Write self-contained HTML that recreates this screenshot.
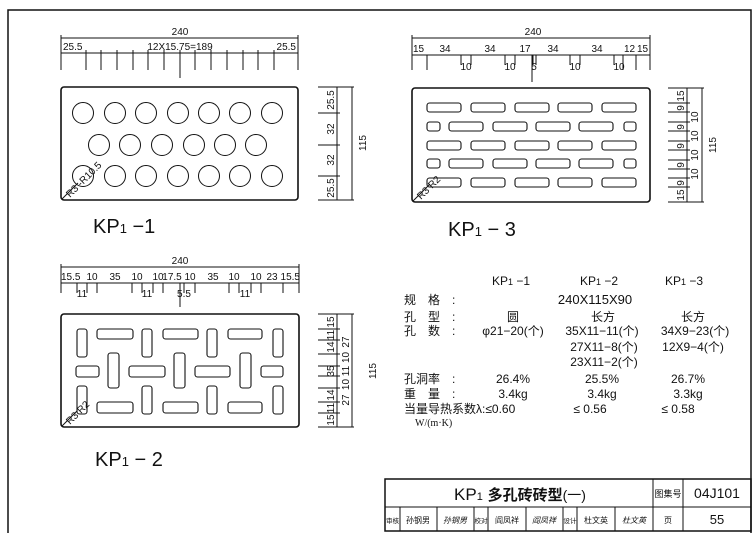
<!DOCTYPE html>
<html><head><meta charset="utf-8"><style>
html,body{margin:0;padding:0;background:#fff}
svg{display:block}
text{font-family:"Liberation Sans","Noto Sans CJK SC",sans-serif;fill:#111}
.s{font-size:10px}
.t{font-size:12px}
.b{font-size:20px}
</style></head><body>
<svg width="754" height="534" viewBox="0 0 754 534" xmlns="http://www.w3.org/2000/svg">
<g stroke="#111" fill="none" stroke-width="1">
<polyline points="8,533 8,10 751,10 751,533" stroke-width="1.5"/>

<rect x="61" y="87" width="237" height="113" rx="3" stroke-width="1.6"/>
<g>
<circle cx="83" cy="113" r="10.5"/><circle cx="115" cy="113" r="10.5"/><circle cx="146" cy="113" r="10.5"/><circle cx="178" cy="113" r="10.5"/><circle cx="209" cy="113" r="10.5"/><circle cx="240" cy="113" r="10.5"/><circle cx="272" cy="113" r="10.5"/>
<circle cx="99" cy="145" r="10.5"/><circle cx="130" cy="145" r="10.5"/><circle cx="162" cy="145" r="10.5"/><circle cx="194" cy="145" r="10.5"/><circle cx="225" cy="145" r="10.5"/><circle cx="256" cy="145" r="10.5"/>
<circle cx="83" cy="176" r="10.5"/><circle cx="115" cy="176" r="10.5"/><circle cx="146" cy="176" r="10.5"/><circle cx="178" cy="176" r="10.5"/><circle cx="209" cy="176" r="10.5"/><circle cx="240" cy="176" r="10.5"/><circle cx="272" cy="176" r="10.5"/>
</g>
<line x1="62" y1="199" x2="78" y2="183"/>
<line x1="61" y1="38" x2="298" y2="38"/>
<line x1="61" y1="53" x2="298" y2="53"/>
<path d="M61,35V70 M86,50V70 M101,50V70 M117,50V70 M133,50V70 M148,50V70 M164,50V70 M180,50V78 M195,50V70 M211,50V70 M227,50V70 M243,50V70 M258,50V70 M274,50V70 M298,35V70"/>
<line x1="337" y1="87" x2="337" y2="200"/>
<line x1="352" y1="87" x2="352" y2="200"/>
<path d="M318,87H354 M318,113H340 M318,145H340 M318,176H340 M318,200H354"/>

<rect x="412" y="88" width="238" height="114" rx="3" stroke-width="1.6"/>
<g stroke-width="1.1">
<rect x="427" y="103" width="34" height="9" rx="2.5"/><rect x="471" y="103" width="34" height="9" rx="2.5"/><rect x="515" y="103" width="34" height="9" rx="2.5"/><rect x="558" y="103" width="34" height="9" rx="2.5"/><rect x="602" y="103" width="34" height="9" rx="2.5"/>
<rect x="427" y="122" width="13" height="9" rx="2.5"/><rect x="449" y="122" width="34" height="9" rx="2.5"/><rect x="493" y="122" width="34" height="9" rx="2.5"/><rect x="536" y="122" width="34" height="9" rx="2.5"/><rect x="579" y="122" width="34" height="9" rx="2.5"/><rect x="624" y="122" width="12" height="9" rx="2.5"/>
<rect x="427" y="141" width="34" height="9" rx="2.5"/><rect x="471" y="141" width="34" height="9" rx="2.5"/><rect x="515" y="141" width="34" height="9" rx="2.5"/><rect x="558" y="141" width="34" height="9" rx="2.5"/><rect x="602" y="141" width="34" height="9" rx="2.5"/>
<rect x="427" y="159" width="13" height="9" rx="2.5"/><rect x="449" y="159" width="34" height="9" rx="2.5"/><rect x="493" y="159" width="34" height="9" rx="2.5"/><rect x="536" y="159" width="34" height="9" rx="2.5"/><rect x="579" y="159" width="34" height="9" rx="2.5"/><rect x="624" y="159" width="12" height="9" rx="2.5"/>
<rect x="427" y="178" width="34" height="9" rx="2.5"/><rect x="471" y="178" width="34" height="9" rx="2.5"/><rect x="515" y="178" width="34" height="9" rx="2.5"/><rect x="558" y="178" width="34" height="9" rx="2.5"/><rect x="602" y="178" width="34" height="9" rx="2.5"/>
</g>
<line x1="413" y1="201" x2="430" y2="184"/>
<line x1="412" y1="38" x2="650" y2="38"/>
<line x1="412" y1="55" x2="650" y2="55"/>
<path d="M412,35V70 M427,55V70 M461,55V65 M471,55V65 M505,55V65 M515,55V65 M533,55V65 M536,55V65 M570,55V65 M580,55V65 M614,55V65 M623,55V70 M636,55V70 M650,35V70 M532,55V82"/>
<line x1="687" y1="88" x2="687" y2="202"/>
<line x1="702" y1="88" x2="702" y2="202"/>
<path d="M668,88H704 M668,103H690 M668,112H690 M668,122H690 M668,131H690 M668,141H690 M668,150H690 M668,160H690 M668,169H690 M668,178H690 M668,187H690 M668,202H704"/>

<rect x="61" y="314" width="238" height="113" rx="3" stroke-width="1.6"/>
<g stroke-width="1.1">
<rect x="77" y="329" width="10" height="28" rx="2.5"/><rect x="97" y="329" width="36" height="10" rx="2.5"/><rect x="142" y="329" width="10" height="28" rx="2.5"/><rect x="163" y="329" width="35" height="10" rx="2.5"/><rect x="207" y="329" width="10" height="28" rx="2.5"/><rect x="228" y="329" width="34" height="10" rx="2.5"/><rect x="273" y="329" width="10" height="28" rx="2.5"/>
<rect x="76" y="366" width="23" height="11" rx="2.5"/><rect x="108" y="353" width="11" height="35" rx="2.5"/><rect x="129" y="366" width="36" height="11" rx="2.5"/><rect x="174" y="353" width="11" height="35" rx="2.5"/><rect x="195" y="366" width="35" height="11" rx="2.5"/><rect x="240" y="353" width="11" height="35" rx="2.5"/><rect x="261" y="366" width="22" height="11" rx="2.5"/>
<rect x="77" y="386" width="10" height="28" rx="2.5"/><rect x="97" y="402" width="36" height="11" rx="2.5"/><rect x="142" y="386" width="10" height="28" rx="2.5"/><rect x="163" y="402" width="35" height="11" rx="2.5"/><rect x="207" y="386" width="10" height="28" rx="2.5"/><rect x="228" y="402" width="34" height="11" rx="2.5"/><rect x="273" y="386" width="10" height="28" rx="2.5"/>
</g>
<line x1="62" y1="426" x2="77" y2="411"/>
<line x1="61" y1="267" x2="299" y2="267"/>
<line x1="61" y1="283" x2="299" y2="283"/>
<path d="M61,264V293 M77,283V293 M87,283V293 M97,283V293 M132,283V293 M142,283V293 M153,283V293 M163,283V293 M180,283V307 M184,283V293 M195,283V293 M229,283V293 M239,283V293 M251,283V293 M261,283V293 M283,283V293 M299,264V293"/>
<line x1="337" y1="314" x2="337" y2="427"/>
<line x1="352" y1="314" x2="352" y2="427"/>
<path d="M318,314H354 M318,329H340 M318,340H340 M318,354H340 M318,366H340 M318,376H340 M318,388H340 M318,402H340 M318,413H340 M318,427H354"/>

<rect x="385" y="479" width="366" height="52" stroke-width="1.5"/>
<line x1="385" y1="507" x2="751" y2="507"/>
<path d="M653,479V531 M683,479V531 M400,507V531 M437,507V531 M474,507V531 M488,507V531 M526,507V531 M563,507V531 M577,507V531 M615,507V531"/>
</g>

<text class="s" x="180" y="35" text-anchor="middle">240</text>
<text class="s" x="63" y="50">25.5</text>
<text class="s" x="180" y="50" text-anchor="middle">12X15.75=189</text>
<text class="s" x="296" y="50" text-anchor="end">25.5</text>
<text class="s" transform="translate(334,100) rotate(-90)" text-anchor="middle">25.5</text>
<text class="s" transform="translate(334,129) rotate(-90)" text-anchor="middle">32</text>
<text class="s" transform="translate(334,160) rotate(-90)" text-anchor="middle">32</text>
<text class="s" transform="translate(334,188) rotate(-90)" text-anchor="middle">25.5</text>
<text class="s" transform="translate(366,143) rotate(-90)" text-anchor="middle">115</text>
<text class="s" transform="translate(70,198) rotate(-45)">R3 -R10.5</text>
<text class="b" x="93" y="233">KP<tspan font-size="13">1</tspan> −1</text>

<text class="s" x="533" y="35" text-anchor="middle">240</text>
<text class="s" x="413" y="52">15</text>
<text class="s" x="445" y="52" text-anchor="middle">34</text>
<text class="s" x="490" y="52" text-anchor="middle">34</text>
<text class="s" x="525" y="52" text-anchor="middle">17</text>
<text class="s" x="553" y="52" text-anchor="middle">34</text>
<text class="s" x="597" y="52" text-anchor="middle">34</text>
<text class="s" x="624" y="52">12</text>
<text class="s" x="637" y="52">15</text>
<text class="s" x="466" y="70" text-anchor="middle">10</text>
<text class="s" x="510" y="70" text-anchor="middle">10</text>
<text class="s" x="534" y="70" text-anchor="middle">5</text>
<text class="s" x="575" y="70" text-anchor="middle">10</text>
<text class="s" x="619" y="70" text-anchor="middle">10</text>
<g class="s">
<text transform="translate(684,96) rotate(-90)" text-anchor="middle">15</text>
<text transform="translate(684,108) rotate(-90)" text-anchor="middle">9</text>
<text transform="translate(684,127) rotate(-90)" text-anchor="middle">9</text>
<text transform="translate(684,146) rotate(-90)" text-anchor="middle">9</text>
<text transform="translate(684,165) rotate(-90)" text-anchor="middle">9</text>
<text transform="translate(684,183) rotate(-90)" text-anchor="middle">9</text>
<text transform="translate(684,195) rotate(-90)" text-anchor="middle">15</text>
<text transform="translate(698,117) rotate(-90)" text-anchor="middle">10</text>
<text transform="translate(698,136) rotate(-90)" text-anchor="middle">10</text>
<text transform="translate(698,155) rotate(-90)" text-anchor="middle">10</text>
<text transform="translate(698,174) rotate(-90)" text-anchor="middle">10</text>
<text transform="translate(716,145) rotate(-90)" text-anchor="middle">115</text>
</g>
<text class="s" transform="translate(421,200) rotate(-45)">R3 R2</text>
<text class="b" x="448" y="236">KP<tspan font-size="13">1</tspan> − 3</text>

<text class="s" x="180" y="264" text-anchor="middle">240</text>
<g class="s">
<text x="61" y="280">15.5</text><text x="92" y="280" text-anchor="middle">10</text><text x="115" y="280" text-anchor="middle">35</text><text x="137" y="280" text-anchor="middle">10</text><text x="158" y="280" text-anchor="middle">10</text><text x="172" y="280" text-anchor="middle">17.5</text><text x="190" y="280" text-anchor="middle">10</text><text x="213" y="280" text-anchor="middle">35</text><text x="234" y="280" text-anchor="middle">10</text><text x="256" y="280" text-anchor="middle">10</text><text x="272" y="280" text-anchor="middle">23</text><text x="300" y="280" text-anchor="end">15.5</text>
<text x="82" y="297" text-anchor="middle">11</text><text x="147" y="297" text-anchor="middle">11</text><text x="184" y="297" text-anchor="middle">5.5</text><text x="245" y="297" text-anchor="middle">11</text>
<text transform="translate(334,322) rotate(-90)" text-anchor="middle">15</text>
<text transform="translate(334,335) rotate(-90)" text-anchor="middle">11</text>
<text transform="translate(334,347) rotate(-90)" text-anchor="middle">14</text>
<text transform="translate(334,371) rotate(-90)" text-anchor="middle">35</text>
<text transform="translate(334,395) rotate(-90)" text-anchor="middle">14</text>
<text transform="translate(334,408) rotate(-90)" text-anchor="middle">11</text>
<text transform="translate(334,420) rotate(-90)" text-anchor="middle">15</text>
<text transform="translate(349,342) rotate(-90)" text-anchor="middle">27</text>
<text transform="translate(349,371) rotate(-90)" text-anchor="middle">10 11 10</text>
<text transform="translate(349,400) rotate(-90)" text-anchor="middle">27</text>
<text transform="translate(376,371) rotate(-90)" text-anchor="middle">115</text>
</g>
<text class="s" transform="translate(70,425) rotate(-45)">R3 R2</text>
<text class="b" x="95" y="466">KP<tspan font-size="13">1</tspan> − 2</text>

<g class="t">
<text x="511" y="285" text-anchor="middle">KP<tspan font-size="9">1</tspan> −1</text>
<text x="599" y="285" text-anchor="middle">KP<tspan font-size="9">1</tspan> −2</text>
<text x="684" y="285" text-anchor="middle">KP<tspan font-size="9">1</tspan> −3</text>
<text x="404" y="304">规　格　:</text>
<text x="595" y="304" text-anchor="middle" font-size="13">240X115X90</text>
<text x="404" y="321">孔　型　:</text>
<text x="513" y="321" text-anchor="middle">圆</text>
<text x="603" y="321" text-anchor="middle">长方</text>
<text x="693" y="321" text-anchor="middle">长方</text>
<text x="404" y="335">孔　数　:</text>
<text x="513" y="335" text-anchor="middle">φ21−20(个)</text>
<text x="602" y="335" text-anchor="middle">35X11−11(个)</text>
<text x="695" y="335" text-anchor="middle">34X9−23(个)</text>
<text x="604" y="351" text-anchor="middle">27X11−8(个)</text>
<text x="693" y="351" text-anchor="middle">12X9−4(个)</text>
<text x="604" y="366" text-anchor="middle">23X11−2(个)</text>
<text x="404" y="383">孔洞率　:</text>
<text x="513" y="383" text-anchor="middle">26.4%</text>
<text x="602" y="383" text-anchor="middle">25.5%</text>
<text x="688" y="383" text-anchor="middle">26.7%</text>
<text x="404" y="398">重　量　:</text>
<text x="513" y="398" text-anchor="middle">3.4kg</text>
<text x="602" y="398" text-anchor="middle">3.4kg</text>
<text x="688" y="398" text-anchor="middle">3.3kg</text>
<text x="404" y="413">当量导热系数λ:≤0.60</text>
<text x="590" y="413" text-anchor="middle">≤ 0.56</text>
<text x="678" y="413" text-anchor="middle">≤ 0.58</text>
<text x="415" y="426" font-size="10" style="font-family:'Liberation Serif',serif">W/(m·K)</text>
</g>

<text x="520" y="500" text-anchor="middle" font-size="17">KP<tspan font-size="11">1</tspan> <tspan font-weight="bold" font-size="15">多孔砖砖型</tspan><tspan font-size="14">(一)</tspan></text>
<text x="668" y="497" text-anchor="middle" font-size="9">图集号</text>
<text x="717" y="498" text-anchor="middle" font-size="14">04J101</text>
<g font-size="8">
<text x="392.5" y="523" text-anchor="middle" font-size="6.5">审核</text>
<text x="418" y="523" text-anchor="middle">孙钢男</text>
<text x="455" y="523" text-anchor="middle" font-style="italic">孙钢男</text>
<text x="481" y="523" text-anchor="middle" font-size="6.5">校对</text>
<text x="507" y="523" text-anchor="middle">阎凤祥</text>
<text x="544" y="523" text-anchor="middle" font-style="italic">阎凤祥</text>
<text x="570" y="523" text-anchor="middle" font-size="6.5">设计</text>
<text x="596" y="523" text-anchor="middle">杜文英</text>
<text x="634" y="523" text-anchor="middle" font-style="italic">杜文英</text>
<text x="668" y="523" text-anchor="middle">页</text>
</g>
<text x="717" y="524" text-anchor="middle" font-size="13">55</text>
</svg>
</body></html>
